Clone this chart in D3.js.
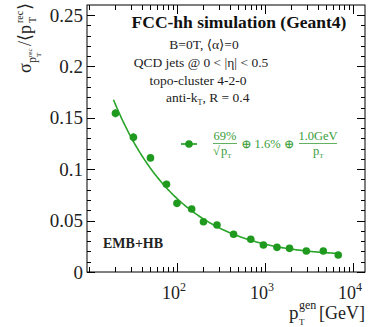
<!DOCTYPE html>
<html>
<head>
<meta charset="utf-8">
<script src="https://cdn.jsdelivr.net/npm/d3@7"></script>
<style>
  html, body { margin: 0; padding: 0; background: #fff; }
  svg { display: block; }
  text { font-family: "Liberation Serif", "DejaVu Serif", serif; }
</style>
</head>
<body>
<svg id="chart" width="371" height="327"></svg>
<script>
// Jet transverse momentum (GeV) of each simulated sample
const ptGen = [20, 32, 50, 76, 100, 147, 200, 285, 440, 690, 960, 1370, 1900, 2950, 4600, 6800];
// Relative jet resolution sigma(pT_rec)/<pT_rec>
const resolution = [0.1544, 0.131, 0.111, 0.0853, 0.0668, 0.0613, 0.0489, 0.0457, 0.0367, 0.0318, 0.0263, 0.024, 0.023, 0.0204, 0.0204, 0.0165];
// Statistical uncertainty on each point
const resError = [0.004, 0.004, 0.003, 0.002, 0.0015, 0.0015, 0.001, 0.001, 0.001, 0.001, 0.001, 0.001, 0.001, 0.001, 0.001, 0.001];
// Fit parameters: stochastic (GeV^1/2), constant, noise (GeV)
const fitStochastic = 0.69;
const fitConstant = 0.016;
const fitNoise = 1.0;
const fitRange = [19, 6800];
// Axis ticks
const yTicks = [0, 0.05, 0.1, 0.15, 0.2, 0.25];
const yTickLabels = ["0", "0.05", "0.1", "0.15", "0.2", "0.25"];
const xMajor = [100, 1000, 10000];
const xMajorExp = ["2", "3", "4"];

const svg = d3.select("#chart");
const L = 87, R = 365, T = 5, B = 272;
const x = d3.scaleLog().domain([9.5, 13700]).range([L, R]);
const y = d3.scaleLinear().domain([0, 0.25 * (B - T) / (B - 15)]).range([B, T]);

const green = "#1f9a1f";
const lineGreen = "#2aa52a";

// frame
svg.append("rect").attr("x", L).attr("y", T).attr("width", R - L).attr("height", B - T)
  .attr("fill", "none").attr("stroke", "#000").attr("stroke-width", 1);

// y ticks (left and right, pointing inward)
const yMinor = d3.range(0, 0.2601, 0.01);
const ax = svg.append("g").attr("stroke", "#000").attr("stroke-width", 1);
yMinor.forEach(v => {
  const isMajor = Math.abs(v / 0.05 - Math.round(v / 0.05)) < 1e-6;
  const len = isMajor ? 8 : 4;
  const yy = Math.round(y(v)) + 0.5;
  if (y(v) < T) return;
  ax.append("line").attr("x1", L).attr("x2", L + len).attr("y1", yy).attr("y2", yy);
  ax.append("line").attr("x1", R).attr("x2", R - len).attr("y1", yy).attr("y2", yy);
});
// x ticks (bottom and top)
const xMinor = [];
for (let e = 1; e <= 4; e++) for (let m = 1; m <= 9; m++) xMinor.push(m * Math.pow(10, e));
xMinor.forEach(v => {
  if (v < x.domain()[0] || v > x.domain()[1]) return;
  const isMajor = xMajor.includes(v);
  const len = isMajor ? 9 : 5;
  const xx = Math.round(x(v)) + 0.5;
  ax.append("line").attr("x1", xx).attr("x2", xx).attr("y1", B).attr("y2", B - len);
  ax.append("line").attr("x1", xx).attr("x2", xx).attr("y1", T).attr("y2", T + len);
});

// y tick labels
yTicks.forEach((v, i) => {
  svg.append("text").attr("x", L - 4).attr("y", y(v) + 6.5)
    .attr("text-anchor", "end").attr("font-size", 19).attr("fill", "#222")
    .text(yTickLabels[i]);
});
// x tick labels (powers of ten)
xMajor.forEach((v, i) => {
  const t = svg.append("text").attr("x", x(v) - 3).attr("y", 299)
    .attr("text-anchor", "middle").attr("font-size", 18).attr("fill", "#222");
  t.append("tspan").text("10");
  t.append("tspan").attr("dy", -8).attr("font-size", 12).text(xMajorExp[i]);
});

// x axis title
const xtC = "#222";
svg.append("text").attr("x", 289).attr("y", 319).attr("font-size", 19).attr("fill", xtC).text("p");
svg.append("text").attr("x", 299).attr("y", 309).attr("font-size", 12).attr("fill", xtC).text("gen");
svg.append("text").attr("x", 299).attr("y", 325).attr("font-size", 9).attr("fill", xtC).text("T");
svg.append("text").attr("x", R).attr("y", 319).attr("text-anchor", "end")
  .attr("font-size", 18).attr("fill", xtC).text("[GeV]");

// y axis title (rotated)
const yt = svg.append("g").attr("transform", "translate(31,73) rotate(-90)").attr("fill", "#222");
yt.append("text").attr("x", 0).attr("y", 0).attr("font-size", 18).text("σ");
yt.append("text").attr("x", 10).attr("y", 5).attr("font-size", 12).text("p");
yt.append("text").attr("x", 16).attr("y", 1).attr("font-size", 7).text("rec");
yt.append("text").attr("x", 16).attr("y", 10).attr("font-size", 7).text("T");
yt.append("text").attr("x", 27).attr("y", 0).attr("font-size", 18).text("/⟨p");
yt.append("text").attr("x", 50).attr("y", -8).attr("font-size", 10).text("rec");
yt.append("text").attr("x", 50).attr("y", 5).attr("font-size", 10).text("T");
yt.append("text").attr("x", 63).attr("y", 0).attr("font-size", 18).text("⟩");

// fit curve from the stated parameters
const fitFn = p => Math.sqrt(Math.pow(fitStochastic / Math.sqrt(p), 2) + fitConstant * fitConstant + Math.pow(fitNoise / p, 2));
const curvePts = d3.range(0, 201).map(i => {
  const lp = Math.log10(fitRange[0]) + i / 200 * (Math.log10(fitRange[1]) - Math.log10(fitRange[0]));
  const p = Math.pow(10, lp);
  return [p, fitFn(p)];
});
svg.append("path").datum(curvePts)
  .attr("d", d3.line().x(d => x(d[0])).y(d => y(d[1])))
  .attr("fill", "none").attr("stroke", lineGreen).attr("stroke-width", 1.6);

// data points with error bars
const pts = ptGen.map((p, i) => ({ p, r: resolution[i], e: resError[i] }));
svg.append("g").selectAll("line").data(pts).join("line")
  .attr("x1", d => x(d.p)).attr("x2", d => x(d.p))
  .attr("y1", d => y(d.r - d.e)).attr("y2", d => y(d.r + d.e))
  .attr("stroke", green).attr("stroke-width", 1.6);
svg.append("g").selectAll("circle").data(pts).join("circle")
  .attr("cx", d => x(d.p)).attr("cy", d => y(d.r)).attr("r", 3.8)
  .attr("fill", green);

// header texts
svg.append("text").attr("x", 239).attr("y", 28).attr("text-anchor", "middle")
  .attr("font-size", 17.5).attr("font-weight", "bold").attr("fill", "#111")
  .text("FCC-hh simulation (Geant4)");
const infoLines = [
  ["B=0T, ⟨α⟩=0", 204, 49],
  ["QCD jets @ 0 < |η| < 0.5", 201, 67],
  ["topo-cluster 4-2-0", 198, 85]
];
infoLines.forEach(([s, cx, cy]) => {
  svg.append("text").attr("x", cx).attr("y", cy).attr("text-anchor", "middle")
    .attr("font-size", 13.5).attr("fill", "#222").text(s);
});
const ak = svg.append("text").attr("x", 166).attr("y", 102).attr("font-size", 13.5).attr("fill", "#222");
ak.append("tspan").text("anti-k");
ak.append("tspan").attr("dy", 3).attr("font-size", 8).text("T");
ak.append("tspan").attr("dy", -3).text(", R = 0.4");

// legend
const lg = svg.append("g");
const ly = 144;
lg.append("line").attr("x1", 181).attr("x2", 197).attr("y1", ly).attr("y2", ly)
  .attr("stroke", green).attr("stroke-width", 1.6);
lg.append("circle").attr("cx", 189).attr("cy", ly).attr("r", 3.8).attr("fill", green);
const lgC = "#3a9d3a";
lg.append("text").attr("x", 225).attr("y", 140).attr("text-anchor", "middle")
  .attr("font-size", 12.5).attr("fill", lgC).text("69%");
lg.append("line").attr("x1", 213).attr("x2", 237).attr("y1", 143.5).attr("y2", 143.5)
  .attr("stroke", lgC).attr("stroke-width", 0.8);
lg.append("text").attr("x", 213).attr("y", 155).attr("font-size", 12.5).attr("fill", lgC).text("√");
const d1 = lg.append("text").attr("x", 221).attr("y", 155).attr("font-size", 12.5).attr("fill", lgC);
d1.append("tspan").text("p");
d1.append("tspan").attr("dy", 3).attr("font-size", 7).text("T");
lg.append("text").attr("x", 241).attr("y", 148).attr("font-size", 12.5).attr("fill", lgC)
  .text("⊕ 1.6% ⊕");
lg.append("text").attr("x", 318).attr("y", 140).attr("text-anchor", "middle")
  .attr("font-size", 12.5).attr("fill", lgC).text("1.0GeV");
lg.append("line").attr("x1", 299).attr("x2", 337).attr("y1", 143.5).attr("y2", 143.5)
  .attr("stroke", lgC).attr("stroke-width", 0.8);
const d2 = lg.append("text").attr("x", 313).attr("y", 155).attr("font-size", 12.5).attr("fill", lgC);
d2.append("tspan").text("p");
d2.append("tspan").attr("dy", 3).attr("font-size", 7).text("T");

// calorimeter region label
svg.append("text").attr("x", 103).attr("y", 248).attr("font-size", 14)
  .attr("font-weight", "bold").attr("fill", "#222").text("EMB+HB");
</script>
</body>
</html>
